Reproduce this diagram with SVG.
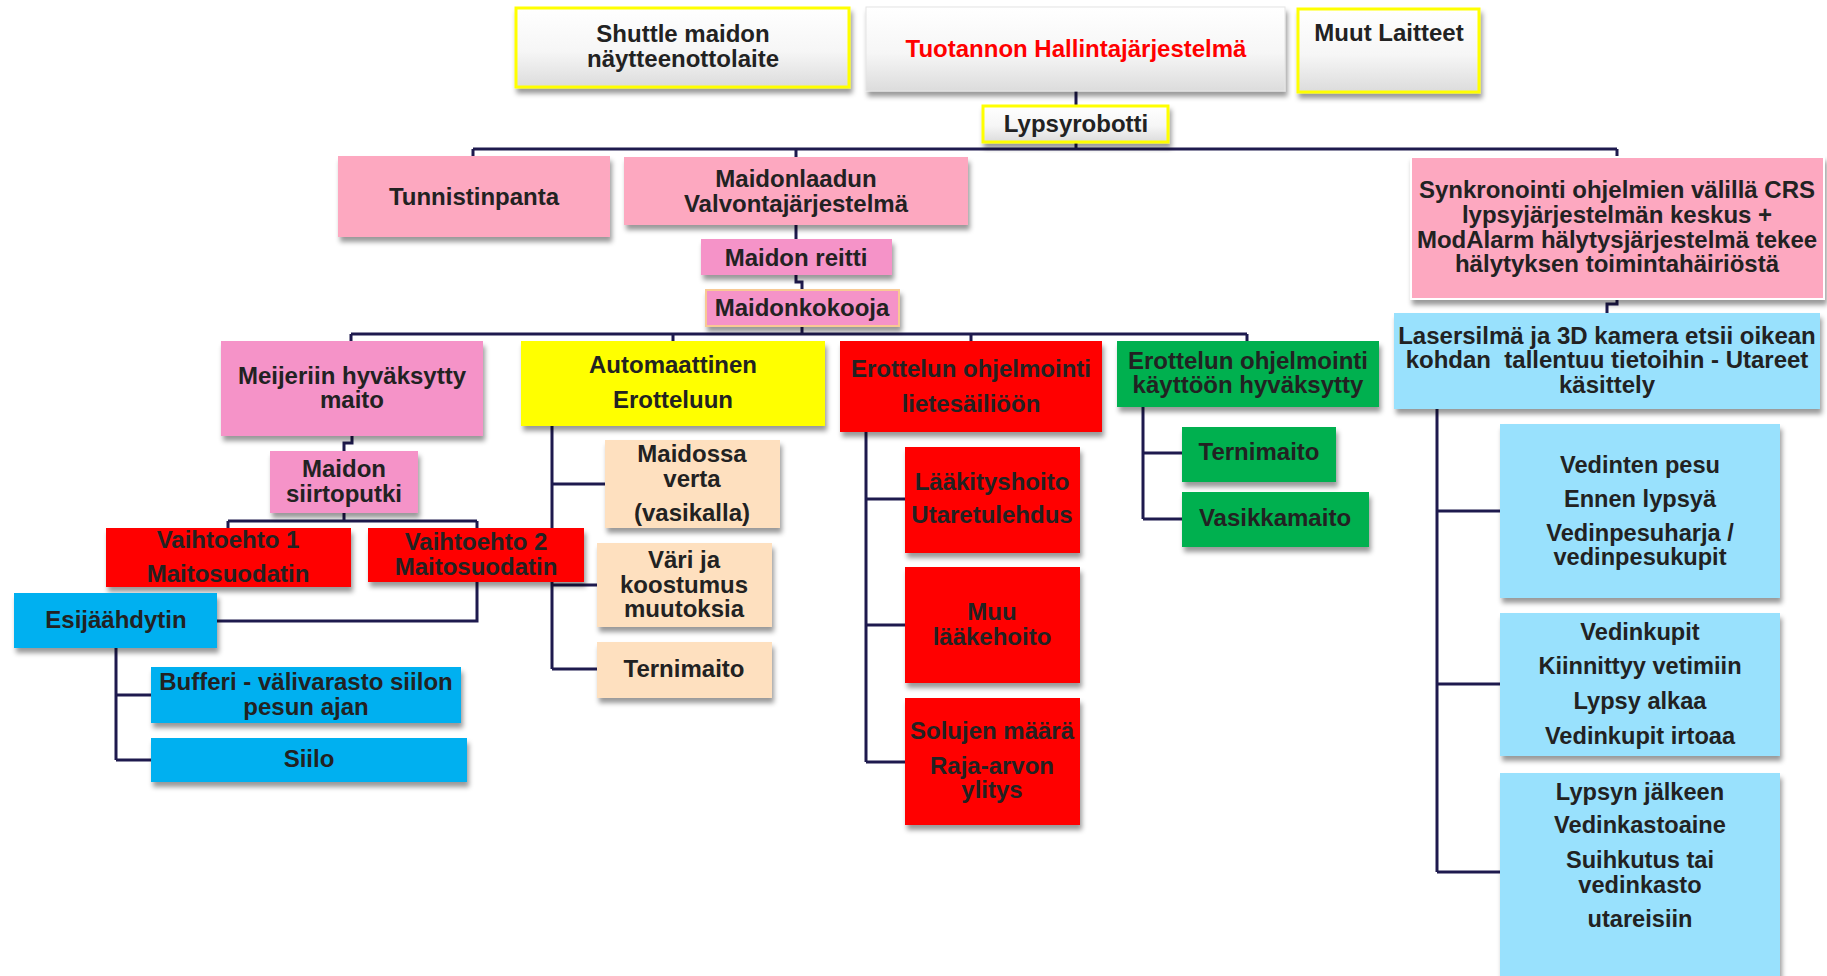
<svg xmlns="http://www.w3.org/2000/svg" width="1827" height="976" viewBox="0 0 1827 976">
<defs>
<linearGradient id="gw" x1="0" y1="0" x2="0" y2="1">
<stop offset="0" stop-color="#ffffff"/><stop offset="0.55" stop-color="#f6f6f6"/><stop offset="1" stop-color="#dcdcdc"/>
</linearGradient>
<filter id="sh" x="-10%" y="-10%" width="125%" height="140%">
<feDropShadow dx="2" dy="5" stdDeviation="2.5" flood-color="#000" flood-opacity="0.4"/>
</filter>
<style>
text{font-family:"Liberation Sans",Arial,sans-serif;font-weight:bold;font-size:24px;fill:#222;text-anchor:middle}
.s{font-size:23.6px}
.red{fill:#ff0000}
rect{filter:url(#sh)}
.top{fill:url(#gw)}
.yb{stroke:#ffff00;stroke-width:3}
.pk{fill:#fda8c0}
.pk2{fill:#f593c8}
.rd{fill:#ff0000}
.yl{fill:#ffff00}
.pc{fill:#fee0bf}
.gr{fill:#00b050}
.bl{fill:#00b0f0}
.lb{fill:#99e1fd}
.cn path{fill:none;stroke:#1e1a4e;stroke-width:3}
</style>
</defs>
<g class="cn" id="connectors">
<path d="M1076 91V106M1076 142V149M473 149H1617M473 149V157M796 149V157M1617 149V157"/>
<path d="M796 225V239M796 275V282H802V290M802 326V334M351 334H1247M351 334V341M673 334V341M971 334V341M1247 334V341"/>
<path d="M352 436V443H344V451M344 513V521M228 521H477M228 521V528M477 521V528"/>
<path d="M477 582V621H217"/>
<path d="M116 648V760M116 695H151M116 760H151"/>
<path d="M552 426V669M552 484H605M552 585H597M552 669H597"/>
<path d="M866 432V762M866 499H905M866 625H905M866 762H905"/>
<path d="M1143 407V519M1143 453H1182M1143 519H1182"/>
<path d="M1617 299V304H1607V313"/>
<path d="M1437 409V872M1437 511H1500M1437 684H1500M1437 872H1500"/>
</g>
<g id="shuttle"><rect class="top yb" x="516" y="8" width="333" height="79"/><text x="683" y="42">Shuttle maidon</text><text x="683" y="67">näytteenottolaite</text></g>
<g id="tuotannon"><rect class="top" x="866" y="7" width="419" height="84" stroke="#e4e4e4" stroke-width="1"/><text class="red" x="1076" y="57">Tuotannon Hallintajärjestelmä</text></g>
<g id="muut"><rect class="top yb" x="1298" y="9" width="181" height="83"/><text x="1389" y="41">Muut Laitteet</text></g>
<g id="lypsyrobotti"><rect class="top yb" x="983" y="106" width="185" height="36"/><text x="1076" y="132">Lypsyrobotti</text></g>
<g id="tunnistinpanta"><rect class="pk" x="338" y="156" width="272" height="81"/><text x="474" y="205">Tunnistinpanta</text></g>
<g id="maidonlaadun"><rect class="pk" x="624" y="157" width="344" height="68"/><text x="796" y="187">Maidonlaadun</text><text x="796" y="212">Valvontajärjestelmä</text></g>
<g id="maidonreitti"><rect class="pk2" x="701" y="239" width="191" height="36"/><text x="796" y="266">Maidon reitti</text></g>
<g id="maidonkokooja"><rect class="pk2" x="706" y="290" width="193" height="36" stroke="#f8c994" stroke-width="2"/><text x="802" y="316">Maidonkokooja</text></g>
<g id="synkronointi"><rect class="pk" x="1411" y="157" width="413" height="142" stroke="#fff" stroke-width="2"/><text x="1617" y="198">Synkronointi ohjelmien välillä CRS</text><text x="1617" y="223">lypsyjärjestelmän keskus +</text><text x="1617" y="248">ModAlarm hälytysjärjestelmä tekee</text><text x="1617" y="272">hälytyksen toimintahäiriöstä</text></g>
<g id="meijeriin"><rect class="pk2" x="221" y="341" width="262" height="95"/><text x="352" y="384">Meijeriin hyväksytty</text><text x="352" y="408">maito</text></g>
<g id="siirtoputki"><rect class="pk2" x="270" y="451" width="148" height="62"/><text x="344" y="477">Maidon</text><text x="344" y="502">siirtoputki</text></g>
<g id="vaihtoehto1"><rect class="rd" x="106" y="528" width="245" height="59"/><text x="228" y="548">Vaihtoehto 1</text><text x="228" y="582">Maitosuodatin</text></g>
<g id="vaihtoehto2"><rect class="rd" x="368" y="528" width="216" height="54"/><text x="476" y="550">Vaihtoehto 2</text><text x="476" y="575">Maitosuodatin</text></g>
<g id="esijaahdytin"><rect class="bl" x="14" y="593" width="203" height="55"/><text x="116" y="628">Esijäähdytin</text></g>
<g id="bufferi"><rect class="bl" x="151" y="667" width="310" height="56"/><text x="306" y="690">Bufferi - välivarasto siilon</text><text x="306" y="715">pesun ajan</text></g>
<g id="siilo"><rect class="bl" x="151" y="738" width="316" height="44"/><text x="309" y="767">Siilo</text></g>
<g id="automaattinen"><rect class="yl" x="521" y="341" width="304" height="85"/><text x="673" y="373">Automaattinen</text><text x="673" y="408">Erotteluun</text></g>
<g id="maidossa"><rect class="pc" x="605" y="440" width="175" height="88"/><text x="692" y="462">Maidossa</text><text x="692" y="487">verta</text><text x="692" y="521">(vasikalla)</text></g>
<g id="vari"><rect class="pc" x="597" y="543" width="175" height="84"/><text x="684" y="568">Väri ja</text><text x="684" y="593">koostumus</text><text x="684" y="617">muutoksia</text></g>
<g id="ternimaito1"><rect class="pc" x="597" y="642" width="175" height="56"/><text x="684" y="677">Ternimaito</text></g>
<g id="erottelu1"><rect class="rd" x="840" y="341" width="262" height="91"/><text x="971" y="377">Erottelun ohjelmointi</text><text x="971" y="412">lietesäiliöön</text></g>
<g id="laakitys"><rect class="rd" x="905" y="447" width="175" height="106"/><text x="992" y="490">Lääkityshoito</text><text x="992" y="523">Utaretulehdus</text></g>
<g id="muu"><rect class="rd" x="905" y="567" width="175" height="116"/><text x="992" y="620">Muu</text><text x="992" y="645">lääkehoito</text></g>
<g id="solujen"><rect class="rd" x="905" y="698" width="175" height="127"/><text x="992" y="739">Solujen määrä</text><text x="992" y="774">Raja-arvon</text><text x="992" y="798">ylitys</text></g>
<g id="erottelu2"><rect class="gr" x="1117" y="341" width="262" height="66"/><text x="1248" y="369">Erottelun ohjelmointi</text><text x="1248" y="393">käyttöön hyväksytty</text></g>
<g id="ternimaito2"><rect class="gr" x="1182" y="427" width="154" height="55"/><text x="1259" y="460">Ternimaito</text></g>
<g id="vasikkamaito"><rect class="gr" x="1182" y="492" width="187" height="55"/><text x="1275" y="526">Vasikkamaito</text></g>
<g id="lasersilma"><rect class="lb" x="1394" y="313" width="426" height="96"/><text x="1607" y="344">Lasersilmä ja 3D kamera etsii oikean</text><text x="1607" y="368">kohdan &#160;tallentuu tietoihin - Utareet</text><text x="1607" y="393">käsittely</text></g>
<g id="vedinten"><rect class="lb" x="1500" y="424" width="280" height="174"/><text class="s" x="1640" y="473">Vedinten pesu</text><text class="s" x="1640" y="507">Ennen lypsyä</text><text class="s" x="1640" y="541">Vedinpesuharja /</text><text class="s" x="1640" y="565">vedinpesukupit</text></g>
<g id="vedinkupit"><rect class="lb" x="1500" y="613" width="280" height="143"/><text class="s" x="1640" y="640">Vedinkupit</text><text class="s" x="1640" y="674">Kiinnittyy vetimiin</text><text class="s" x="1640" y="709">Lypsy alkaa</text><text class="s" x="1640" y="744">Vedinkupit irtoaa</text></g>
<g id="lypsyn"><rect class="lb" x="1500" y="773" width="280" height="210"/><text class="s" x="1640" y="800">Lypsyn jälkeen</text><text class="s" x="1640" y="833">Vedinkastoaine</text><text class="s" x="1640" y="868">Suihkutus tai</text><text class="s" x="1640" y="893">vedinkasto</text><text class="s" x="1640" y="927">utareisiin</text></g>
</svg>
